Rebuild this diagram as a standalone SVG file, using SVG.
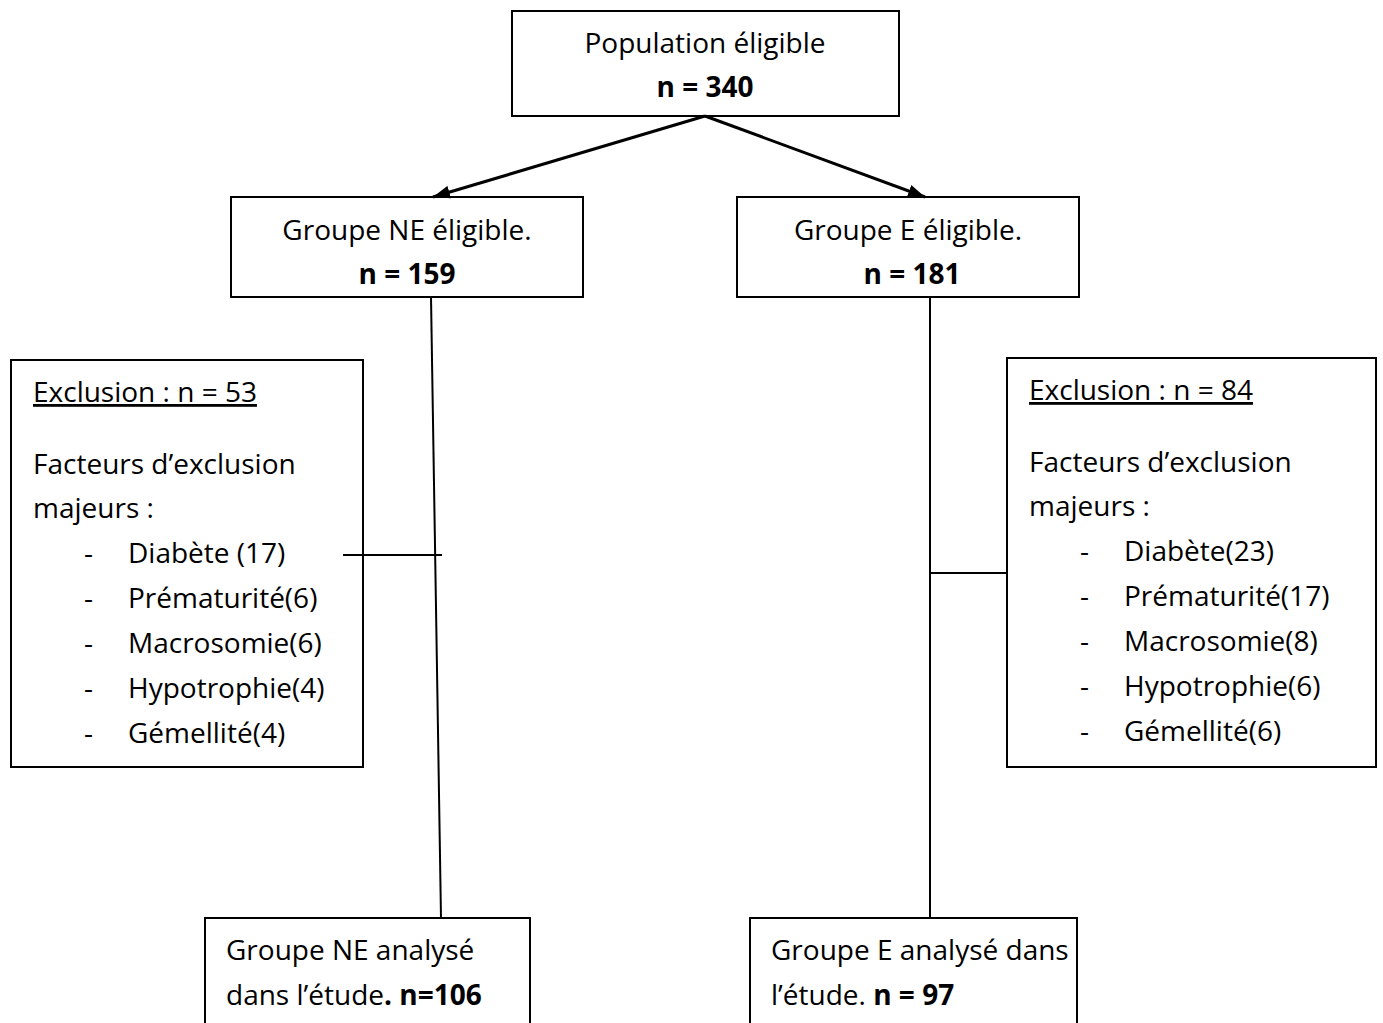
<svg xmlns="http://www.w3.org/2000/svg" width="1383" height="1023" viewBox="0 0 1383 1023">
<style>
.box{fill:#fff;stroke:#000;stroke-width:2}
.t{font-family:"Open Sans","Liberation Sans",sans-serif;font-size:28px;fill:#000}
.b{font-weight:bold}
.c{text-anchor:middle}
.ln{stroke:#000;stroke-width:2;fill:none}
.ar{stroke:#000;stroke-width:3;fill:none}
</style>
<defs>
<marker id="ah" viewBox="0 0 10 10" refX="10" refY="5" markerWidth="17" markerHeight="13" markerUnits="userSpaceOnUse" orient="auto" preserveAspectRatio="none">
<path d="M0,0 L10,5 L0,10 z" fill="#000"/>
</marker>
</defs>
<g id="population">
<rect class="box" x="512" y="11" width="387" height="105"/>
<text class="t c" x="705" y="53">Population éligible</text>
<text class="t b c" x="705" y="97">n = 340</text>
</g>
<g id="groupe-ne">
<rect class="box" x="231" y="197" width="352" height="100"/>
<text class="t c" x="407" y="240">Groupe NE éligible.</text>
<text class="t b c" x="407" y="284">n = 159</text>
</g>
<g id="groupe-e">
<rect class="box" x="737" y="197" width="342" height="100"/>
<text class="t c" x="908" y="240">Groupe E éligible.</text>
<text class="t b c" x="912" y="284">n = 181</text>
</g>
<g id="exclusion-ne">
<rect class="box" x="11" y="360" width="352" height="407"/>
<text class="t" x="33" y="402" text-decoration="underline">Exclusion : n = 53</text>
<text class="t" x="33" y="474">Facteurs d’exclusion</text>
<text class="t" x="33" y="518">majeurs :</text>
<text class="t" x="84" y="563">-</text><text class="t" x="128" y="563">Diabète (17)</text>
<text class="t" x="84" y="608">-</text><text class="t" x="128" y="608">Prématurité(6)</text>
<text class="t" x="84" y="653">-</text><text class="t" x="128" y="653">Macrosomie(6)</text>
<text class="t" x="84" y="698">-</text><text class="t" x="128" y="698">Hypotrophie(4)</text>
<text class="t" x="84" y="743">-</text><text class="t" x="128" y="743">Gémellité(4)</text>
</g>
<g id="exclusion-e">
<rect class="box" x="1007" y="358" width="369" height="409"/>
<text class="t" x="1029" y="400" text-decoration="underline">Exclusion : n = 84</text>
<text class="t" x="1029" y="472">Facteurs d’exclusion</text>
<text class="t" x="1029" y="516">majeurs :</text>
<text class="t" x="1080" y="561">-</text><text class="t" x="1124" y="561">Diabète(23)</text>
<text class="t" x="1080" y="606">-</text><text class="t" x="1124" y="606">Prématurité(17)</text>
<text class="t" x="1080" y="651">-</text><text class="t" x="1124" y="651">Macrosomie(8)</text>
<text class="t" x="1080" y="696">-</text><text class="t" x="1124" y="696">Hypotrophie(6)</text>
<text class="t" x="1080" y="741">-</text><text class="t" x="1124" y="741">Gémellité(6)</text>
</g>
<g id="analyse-ne">
<rect class="box" x="205" y="918" width="325" height="120"/>
<text class="t" x="226" y="960">Groupe NE analysé</text>
<text class="t" x="226" y="1005">dans l’étude<tspan class="b">. n=106</tspan></text>
</g>
<g id="analyse-e">
<rect class="box" x="750" y="918" width="327" height="120"/>
<text class="t" x="771" y="960">Groupe E analysé dans</text>
<text class="t" x="771" y="1005">l’étude. <tspan class="b">n = 97</tspan></text>
</g>
<g id="connectors">
<line class="ar" x1="705" y1="116" x2="433" y2="197" marker-end="url(#ah)"/>
<line class="ar" x1="705" y1="116" x2="925" y2="197" marker-end="url(#ah)"/>
<line class="ln" x1="431" y1="297" x2="441" y2="918"/>
<line class="ln" x1="343" y1="555" x2="442" y2="555"/>
<line class="ln" x1="930" y1="297" x2="930" y2="918"/>
<line class="ln" x1="930" y1="573" x2="1007" y2="573"/>
</g>
</svg>
